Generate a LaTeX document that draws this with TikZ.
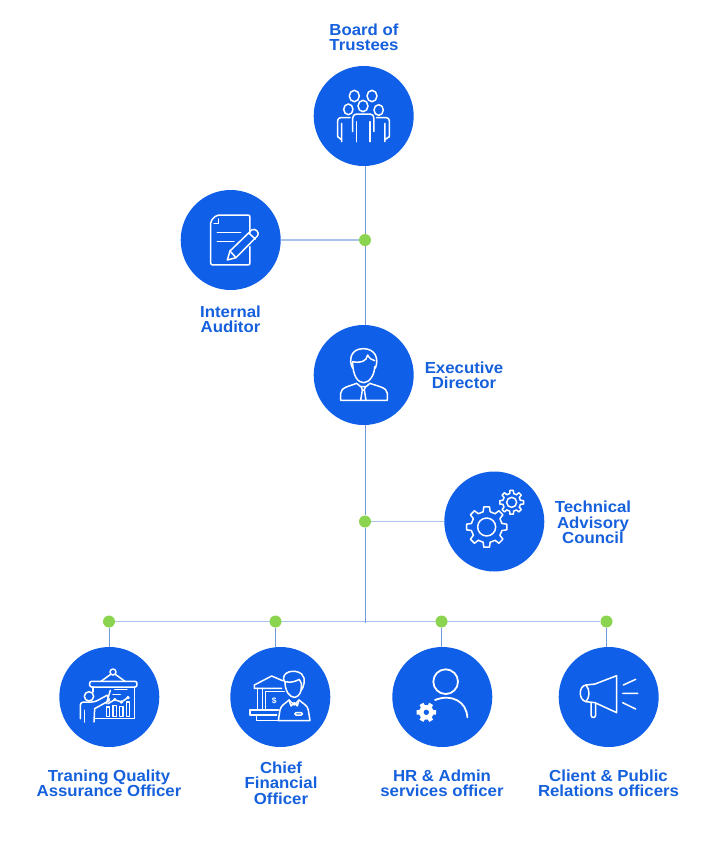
\documentclass[tikz,border=0pt]{standalone}
\usepackage{fontspec}
\setmainfont[FakeStretch=1.05]{Liberation Sans}
\usetikzlibrary{positioning}
\usetikzlibrary{backgrounds}
\definecolor{circleblue}{HTML}{0F5FE8}
\definecolor{labelblue}{HTML}{1560DC}
\definecolor{dotgreen}{HTML}{8BD450}
\definecolor{linkblue}{HTML}{6F9BDB}
\definecolor{linklight}{HTML}{A9C3EC}
% one tooth per 45 degrees, centre and radii in crop units
\newcommand{\gearicon}[5]{
  \foreach \a in {0,45,...,315} {
    \draw[shift={(#1,#2)}] (\a-13:#4) -- (\a-8:#3) -- (\a+8:#3) -- (\a+13:#4) -- (\a+32:#4);
  }
  \draw (#1,#2) circle [radius=#5];
}
\begin{document}
\begin{tikzpicture}[
  x=1pt,y=-1pt,
  mycircle/.style={circle,fill=circleblue,minimum size=100pt,inner sep=0pt},
  mydot/.style={circle,fill=dotgreen,minimum size=12pt,inner sep=0pt},
  mylabel/.style={text=labelblue,align=center,inner sep=0pt,font=\fontsize{16}{15.3}\selectfont\bfseries},
  mylink/.style={draw=linkblue,line width=1pt},
  mylinklight/.style={draw=linklight,line width=1.5pt},
  iconbox/.style 2 args={shift={(#1,#2)},x=0.3333pt,y=-0.3333pt,white,line width=1.5pt,line join=round,line cap=round}
]
  \useasboundingbox (0,0) rectangle (728,844);

  \node[mycircle] (board) at (363.7,116) {};
  \node[mycircle] (auditor) at (230.7,240) {};
  \node[mycircle] (exec) at (363.7,375) {};
  \node[mycircle] (tech) at (494.3,521.5) {};
  \node[mycircle] (training) at (109.3,697) {};
  \node[mycircle] (finance) at (280.3,697) {};
  \node[mycircle] (hr) at (442.3,697) {};
  \node[mycircle] (client) at (608.7,697) {};

  \node[mydot] (dotaudit) at (365,240) {};
  \node[mydot] (dottech) at (365,521.5) {};
  \node[mydot] (dottraining) at (109,621.5) {};
  \node[mydot] (dotfinance) at (275.5,621.5) {};
  \node[mydot] (dothr) at (441.5,621.5) {};
  \node[mydot] (dotclient) at (606.5,621.5) {};
  \coordinate (branch) at (365,623);

  \begin{scope}[on background layer]
    \draw[mylinklight] (auditor) -- (dotaudit);
    \draw[mylinklight] (tech) -- (dottech);
    \draw[mylinklight] (dottraining) -- (dotclient);
    \draw[mylink] (board.south -| dotaudit) -- (dotaudit);
    \draw[mylink] (dotaudit) -- (exec.north -| dotaudit);
    \draw[mylink] (exec.south -| dotaudit) -- (dottech);
    \draw[mylink] (dottech) -- (branch);
    \draw[mylink] (dottraining) -- (training.north -| dottraining);
    \draw[mylink] (dotfinance) -- (finance.north -| dotfinance);
    \draw[mylink] (dothr) -- (hr.north -| dothr);
    \draw[mylink] (dotclient) -- (client.north -| dotclient);
  \end{scope}

  \node[mylabel] (lboard) at (364,37.5) {Board of\\Trustees};
  \node[mylabel] (lauditor) at (230.5,319.5) {Internal\\Auditor};
  \node[mylabel] (lexec) at (464,375.5) {Executive\\Director};
  \node[mylabel] (ltech) at (593,522.5) {Technical\\Advisory\\Council};
  \node[mylabel] (ltraining) at (109,783) {Traning Quality\\Assurance Officer};
  \node[mylabel] (lfinance) at (281,783) {Chief\\Financial\\Officer};
  \node[mylabel] (lhr) at (442,783) {HR \& Admin\\services officer};
  \node[mylabel] (lclient) at (608.5,783) {Client \& Public\\Relations officers};

  % board
  \begin{scope}[iconbox={330}{80}]
    \draw (73,48) ellipse [x radius=15,y radius=17];
    \draw (126,48) ellipse [x radius=15,y radius=17];
    \draw (99,78) ellipse [x radius=15,y radius=17];
    \draw (55,88) ellipse [x radius=14,y radius=16];
    \draw (146,90) ellipse [x radius=14,y radius=16];
    \draw[rounded corners=4pt] (68,155) -- (68,102) -- (132,102) -- (132,155);
    \draw (80,125) -- (80,185) (120,125) -- (120,185);
    \draw[rounded corners=3pt] (60,113) -- (23,113) -- (23,170);
    \draw (23,170) -- (33,178) (35,130) -- (35,185);
    \draw[rounded corners=3pt] (140,113) -- (178,113) -- (178,170);
    \draw (178,170) -- (166,178) (165,130) -- (165,185);
  \end{scope}

  % auditor
  \begin{scope}[iconbox={200}{205}]
    \draw[rounded corners=2pt] (150,85) -- (150,30) -- (50,30) -- (32,48) -- (32,180) -- (150,180) -- (150,125);
    \draw (55,42) -- (55,55) -- (42,55);
    \draw (52,83) -- (122,83) (52,110) -- (102,110);
    \draw (82,165) -- (90,138) -- (155,75) .. controls (165,68) and (180,82) .. (173,92) -- (108,158) -- cycle;
    \draw (90,138) -- (108,158) (146,84) -- (166,102);
  \end{scope}

  % executive
  \begin{scope}[iconbox={330}{340}]
    \draw (68,65) .. controls (68,110) and (85,128) .. (101,128) .. controls (118,128) and (134,105) .. (134,80);
    \draw (68,85) .. controls (55,60) and (62,26) .. (100,26) .. controls (135,26) and (148,55) .. (136,85);
    \draw (68,65) .. controls (90,70) and (110,65) .. (113,45) .. controls (118,55) and (125,60) .. (134,62);
    \draw (32,181) -- (32,160) .. controls (32,142) and (60,138) .. (80,130) -- (92,140)
          -- (108,140) -- (120,130) .. controls (140,138) and (172,142) .. (172,160) -- (172,181) -- cycle;
    \draw (94,140) -- (97,150) -- (92,181) (106,140) -- (103,150) -- (108,181) (97,150) -- (103,150);
  \end{scope}

  % technical
  \begin{scope}[iconbox={460}{485}]
    \gearicon{80}{126}{61}{47}{27}
    \gearicon{155}{52}{36}{27}{15}
  \end{scope}

  % training
  \begin{scope}[iconbox={75}{660}]
    \draw (114,36) circle [radius=9];
    \draw (107,43) -- (78,64) (121,43) -- (150,64);
    \draw[rounded corners=2pt] (44,64) rectangle (186,81);
    \draw (54,81) -- (54,96) (179,81) -- (179,176) -- (59,176);
    \draw (42,109) circle [radius=14];
    \draw[rounded corners=3pt] (16,176) -- (16,126) -- (59,126) -- (96,106);
    \draw (96,106) -- (104,121) -- (59,146) -- (57,186);
    \draw (29,151) -- (29,186);
    \draw (106,91) -- (94,131);
    \draw (119,89) -- (156,89) (114,103) -- (136,103);
    \draw (94,141) rectangle (104,169) (114,136) rectangle (124,169) (134,139) rectangle (144,169) (154,126) rectangle (164,169);
    \draw (99,131) -- (119,119) -- (139,126) -- (159,113);
    \fill[circleblue,draw=white] (119,119) circle [radius=3] (139,126) circle [radius=3] (159,113) circle [radius=3];
  \end{scope}

  % finance
  \begin{scope}[iconbox={245}{660}]
    \draw (110,85) -- (28,85) -- (28,75) -- (80,48) -- (113,62);
    \draw (38,85) -- (38,150) (52,85) -- (52,150);
    \draw (118,95) -- (62,95) -- (62,150);
    \node[text=white,inner sep=0pt,font=\fontsize{8}{8}\selectfont\bfseries] (dollar) at (88,122) {\$};
    \draw (100,150) -- (15,150) -- (15,165) -- (95,165) (35,165) -- (35,182) -- (100,182);
    \draw (118,65) .. controls (105,35) and (150,25) .. (170,42) .. controls (185,55) and (175,85) .. (168,92);
    \draw (120,65) .. controls (140,70) and (155,62) .. (163,58) .. controls (170,65) and (170,72) .. (168,92);
    \draw (120,65) .. controls (120,95) and (135,112) .. (148,112) .. controls (155,112) and (165,105) .. (168,92);
    \draw (100,182) -- (105,150) .. controls (108,135) and (122,130) .. (132,120) -- (148,135) -- (162,120)
          .. controls (172,130) and (188,135) .. (190,150) -- (195,182) -- cycle;
    \draw (132,120) -- (138,138) -- (148,128) -- (157,138) -- (162,120);
    \draw[rounded corners=1pt] (150,158) rectangle (172,165);
  \end{scope}

  % hr
  \begin{scope}[iconbox={405}{660}]
    \draw[line width=1.8pt] (122,65) circle [radius=37];
    \draw[line width=1.8pt] (90,120) .. controls (140,100) and (185,125) .. (187,172);
    \fill (64,157) circle [radius=22];
    \foreach \a in {0,60,...,300} {
      \fill[shift={(64,157)}] (\a-22:18) -- (\a-13:30) -- (\a+13:30) -- (\a+22:18) -- cycle;
    }
    \fill[circleblue] (64,157) circle [radius=8];
  \end{scope}

  % client
  \begin{scope}[iconbox={575}{660}]
    \draw (125,47) -- (125,158) -- (60,128) -- (33,125) .. controls (10,120) and (10,78) .. (33,75) -- (60,72) -- cycle;
    \draw (33,75) .. controls (45,90) and (45,110) .. (33,125);
    \draw (48,128) -- (48,165) .. controls (48,175) and (62,175) .. (62,165) -- (62,130);
    \draw (145,75) -- (182,58) (143,100) -- (188,100) (143,128) -- (182,147);
  \end{scope}
\end{tikzpicture}
\end{document}
